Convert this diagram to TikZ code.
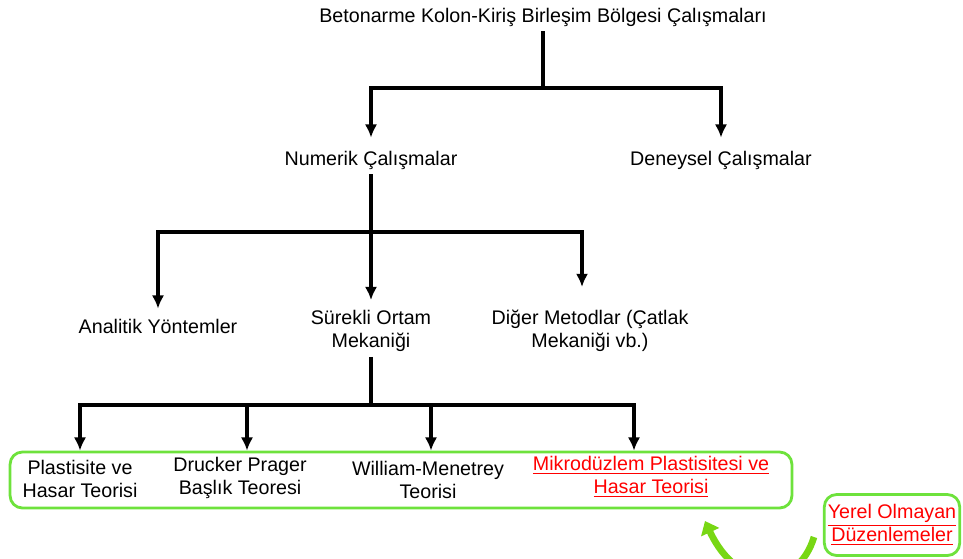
\documentclass[tikz,border=0pt]{standalone}
\usepackage{fontspec}
\setmainfont{Liberation Sans}
\usetikzlibrary{arrows.meta,positioning}
\definecolor{boxgreen}{RGB}{110,226,60}
\definecolor{arrowgreen}{RGB}{120,215,20}
\newcommand{\redul}[1]{\textcolor{red}{\underline{#1}}}

\begin{document}
\begin{tikzpicture}[x=0.02cm,y=-0.02cm,line width=1.9pt,
  every node/.style={font=\fontsize{11.2}{13.2}\selectfont,align=center,inner sep=2pt},
  groupbox/.style={draw=boxgreen,line width=1.6pt,rounded corners=7pt},
  tip/.style={-{Latex[length=7.5pt,width=7pt]}}]
\clip (0,0) rectangle (963,558);

% levels of the tree
\node (title) at (543,17) {Betonarme Kolon-Kiriş Birleşim Bölgesi Çalışmaları};
\node (num) at (371,160) {Numerik Çalışmalar};
\node (den) at (721,160) {Deneysel Çalışmalar};
\node (anal) at (158,326) {Analitik Yöntemler};
\node (surekli) at (371,331) {Sürekli Ortam\\Mekaniği};
\node (diger) at (590,331) {Diğer Metodlar (Çatlak\\Mekaniği vb.)};

\node (grp) at (401,480) [groupbox,minimum width=15.64cm,minimum height=1.12cm] {};
\node (plast) at (80,479) {Plastisite ve\\Hasar Teorisi};
\node (drucker) at (240,478) {Drucker Prager\\Başlık Teoresi};
\node (william) at (428,480) {William-Menetrey\\Teorisi};
\node (mikro) at (651,477) {\redul{Mikrodüzlem Plastisitesi ve}\\\redul{Hasar Teorisi}};
\node (yerel) at (892,525) [groupbox,minimum width=2.7cm,minimum height=1.22cm] {\redul{Yerel Olmayan}\\\redul{Düzenlemeler}};

\coordinate (j1) at (543,88);
\coordinate (j2) at (371,232);
\coordinate (j3) at (371,405);

\draw (title) -- (j1);
\draw[tip,shorten >=0.16cm] (j1) -| (num.north);
\draw[tip,shorten >=0.16cm] (j1) -| (den.north);

\draw (num) -- (j2);
\draw[tip,shorten >=0.1cm] (j2) -| (anal.north);
\draw[tip,shorten >=0.1cm] (j2) -- (surekli.north);
\draw[tip,shorten >=0.36cm] (j2) -| ([xshift=-0.16cm]diger.north);

\draw (surekli) -- (j3);
\draw[tip] (j3) -| (plast.north |- grp.north);
\draw[tip] (j3) -| ([xshift=0.14cm]drucker.north |- grp.north);
\draw[tip] (j3) -| ([xshift=0.06cm]william.north |- grp.north);
\draw[tip] (j3) -| ([xshift=-0.34cm]mikro.north |- grp.north);

% green curved arrow
\coordinate (cstart) at (814,537);
\coordinate (cend) at (705,521);
\draw[arrowgreen,line width=3.8pt,-{Triangle[length=7pt,width=11pt]}] (cstart) .. controls (798,590) and (738,592) .. (cend);
\end{tikzpicture}
\end{document}
